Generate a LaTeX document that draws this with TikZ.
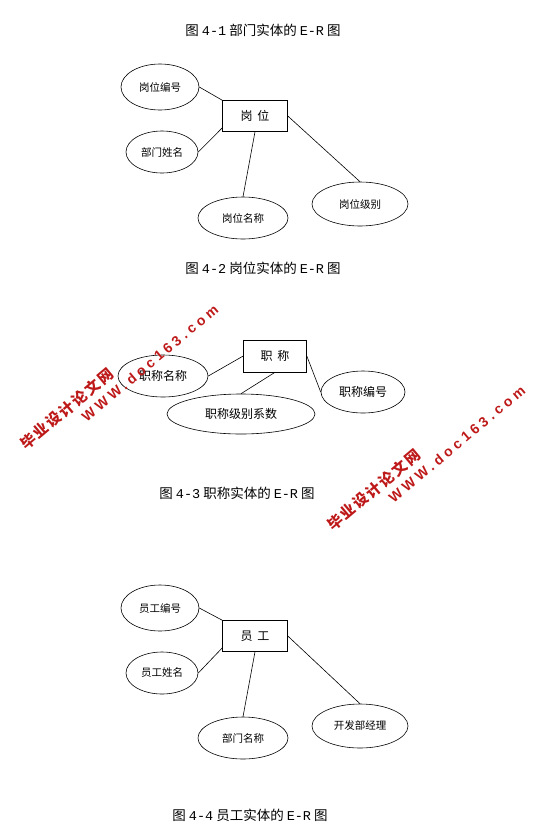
\documentclass[tikz,border=0pt]{standalone}
\usepackage{fontspec}
\setmainfont{Noto Sans CJK SC}
\newfontfamily\capmono{Liberation Mono}
\newfontfamily\wmcjk[LetterSpace=12]{Noto Sans CJK SC}
\newfontfamily\wmlat[LetterSpace=27]{Liberation Sans}
\usepackage{xcolor}
\usetikzlibrary{shapes.geometric}
\definecolor{wmred}{RGB}{190,25,25}
\newcommand{\lat}[1]{{\capmono #1}}
\tikzset{
	ent/.style={draw, rectangle, minimum width=65pt, minimum height=31pt, inner sep=0pt, font=\fontsize{12}{12}\selectfont},
	attr/.style={draw, ellipse, inner sep=0pt, font=\fontsize{10.5}{10.5}\selectfont},
	figcap/.style={font=\fontsize{13.5}{14}\selectfont},
	wm/.style={text=wmred, rotate=40, anchor=south west, inner sep=0pt},
}

\begin{document}
\begin{tikzpicture}[x=1pt, y=-1pt, line width=0.6pt]
					\useasboundingbox (0,0) rectangle (551,839);
					% figure 4-1
					\node[figcap] (cap1) at (263,30) {图 \lat{4-1} 部门实体的 \lat{E-R} 图};
					\node[ent] (gw) at (255,116) {岗\hspace{5pt}位};
					\node[attr, minimum width=78pt, minimum height=46pt] (gwbh) at (160,87) {岗位编号};
					\node[attr, minimum width=72pt, minimum height=42pt] (bmxm) at (162,152) {部门姓名};
					\node[attr, minimum width=90pt, minimum height=42pt] (gwmc) at (243,218) {岗位名称};
					\node[attr, minimum width=96pt, minimum height=44pt] (gwjb) at (360,204) {岗位级别};
					\draw (gwbh.east) -- (gw.north west);
					\draw (bmxm.east) -- (gw.200);
					\draw (gw.south) -- (gwmc.north);
					\draw (gw.east) -- (gwjb.north);
					
					% figure 4-2
					\node[figcap] (cap2) at (263,268) {图 \lat{4-2} 岗位实体的 \lat{E-R} 图};
					\node[ent, minimum width=63pt, minimum height=32pt] (zc) at (275,356) {职\hspace{5pt}称};
					\node[attr, font=\fontsize{12}{12}\selectfont, minimum width=90pt, minimum height=42pt] (zcmc) at (163,376) {职称名称};
					\node[attr, font=\fontsize{12}{12}\selectfont, minimum width=148pt, minimum height=40pt] (zcjb) at (241,414) {职称级别系数};
					\node[attr, font=\fontsize{12}{12}\selectfont, minimum width=84pt, minimum height=42pt] (zcbh) at (363,392) {职称编号};
					\draw (zcmc.east) -- (zc.west);
					\draw (zc.south) -- (zcjb.north);
					\draw (zc.east) -- (zcbh.west);
					
					% figure 4-3
					\node[figcap] (cap3) at (237,493) {图 \lat{4-3} 职称实体的 \lat{E-R} 图};
					
					% figure 4-4
					\node[ent] (yg) at (255,636) {员\hspace{5pt}工};
					\node[attr, minimum width=78pt, minimum height=46pt] (ygbh) at (160,608) {员工编号};
					\node[attr, minimum width=72pt, minimum height=42pt] (ygxm) at (162,673) {员工姓名};
					\node[attr, minimum width=90pt, minimum height=42pt] (bmmc) at (243,738) {部门名称};
					\node[attr, minimum width=96pt, minimum height=44pt] (kfjl) at (360,726) {开发部经理};
					\draw (ygbh.east) -- (yg.north west);
					\draw (ygxm.east) -- (yg.200);
					\draw (yg.south) -- (bmmc.north);
					\draw (yg.east) -- (kfjl.north);
					\node[figcap] (cap4) at (250,815) {图 \lat{4-4} 员工实体的 \lat{E-R} 图};
					
					% watermarks
					\node[wm, font=\wmcjk\bfseries\fontsize{15}{15}\selectfont] (wma) at (27,452) {毕业设计论文网};
					\node[wm, font=\wmlat\bfseries\fontsize{14}{14}\selectfont] (wmb) at (87,423) {WWW.doc163.com};
					\node[wm, font=\wmcjk\bfseries\fontsize{15}{15}\selectfont] (wmc) at (334,533) {毕业设计论文网};
					\node[wm, font=\wmlat\bfseries\fontsize{14}{14}\selectfont] (wmd) at (394,504) {WWW.doc163.com};
				\end{tikzpicture}
\end{document}
